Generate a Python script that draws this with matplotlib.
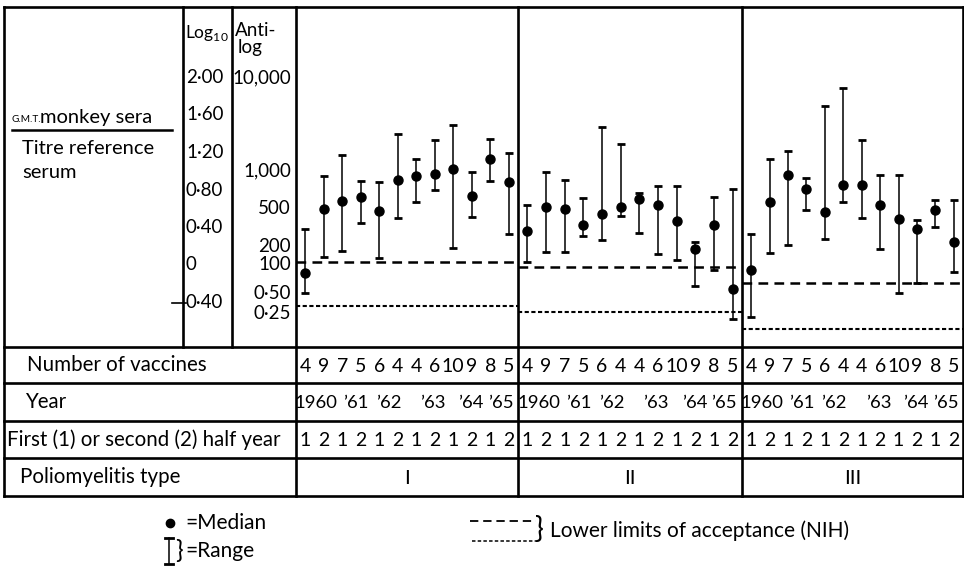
import matplotlib
matplotlib.use("Agg")
import matplotlib.pyplot as plt
from matplotlib.transforms import blended_transform_factory

# values in log10 units
type_I_median = [-0.08, 0.60, 0.68, 0.725, 0.58, 0.905, 0.95, 0.97, 1.02, 0.74, 1.13, 0.885]
type_I_high = [0.38, 0.95, 1.17, 0.90, 0.885, 1.40, 1.13, 1.33, 1.49, 0.99, 1.34, 1.19]
type_I_low = [-0.30, 0.085, 0.15, 0.45, 0.075, 0.50, 0.67, 0.80, 0.18, 0.51, 0.90, 0.33]

type_II_median = [0.36, 0.62, 0.60, 0.43, 0.545, 0.62, 0.70, 0.64, 0.47, 0.17, 0.43, -0.256]
type_II_high = [0.64, 0.99, 0.905, 0.715, 1.47, 1.29, 0.77, 0.84, 0.84, 0.245, 0.725, 0.81]
type_II_low = [0.03, 0.14, 0.14, 0.31, 0.265, 0.52, 0.34, 0.12, 0.05, -0.22, -0.05, -0.576]

type_III_median = [-0.053, 0.67, 0.96, 0.81, 0.565, 0.853, 0.853, 0.64, 0.49, 0.384, 0.587, 0.245]
type_III_high = [0.33, 1.13, 1.216, 0.925, 1.696, 1.89, 1.333, 0.955, 0.955, 0.48, 0.693, 0.693]
type_III_low = [-0.555, 0.128, 0.213, 0.587, 0.277, 0.672, 0.50, 0.17, -0.30, -0.19, 0.405, -0.075]

# lower limits of acceptance (NIH), dashed and dotted
limit_dashed = [0.03, -0.02, -0.19]
limit_dotted = [-0.44, -0.50, -0.68]

vaccines = [4, 9, 7, 5, 6, 4, 4, 6, 10, 9, 8, 5]
years = ["1960", "\u201961", "\u201962", "\u201963", "\u201964", "\u201965"]
half_year = [1, 2, 1, 2, 1, 2, 1, 2, 1, 2, 1, 2]
polio_types = ["I", "II", "III"]

log_ticks = [2.0, 1.6, 1.2, 0.8, 0.4, 0.0, -0.4]
log_labels = ["2\u00b700", "1\u00b760", "1\u00b720", "0\u00b780", "0\u00b740", "0", "0\u00b740"]
antilog_ticks = [2.0, 1.0, 0.6, 0.2, 0.0, -0.3, -0.52]
antilog_labels = ["10,000", "1,000", "500", "200", "100", "0\u00b750", "0\u00b725"]

plt.rcParams["font.family"] = ["Lato", "DejaVu Sans"]
plt.rcParams["mathtext.fontset"] = "custom"
plt.rcParams["mathtext.rm"] = "Lato"
plt.rcParams["lines.scale_dashes"] = False

W, H = 964, 567
fig = plt.figure(figsize=(W / 100, H / 100), dpi=100)

# layout axes in pixel units for the ruled table
base = fig.add_axes([0, 0, 1, 1])
base.set_xlim(0, W)
base.set_ylim(H, 0)
base.axis("off")

lw = 1.9
left, right, top, chart_bottom, table_bottom = 4, 963, 7, 347, 496
rows = [347, 383, 421, 458, 496]
panel_edges = [296, 518, 742, 963]
year_pos = [0.6, 2.75, 4.5, 6.9, 8.95, 10.55]  # where each year label sits under its pair

for y in [top] + rows:
    base.plot([left, right], [y, y], color="black", lw=lw, solid_capstyle="projecting")
for x in [left, right] + panel_edges[:-1]:
    base.plot([x, x], [top, table_bottom], color="black", lw=lw, solid_capstyle="projecting")
for x in [183, 232]:
    base.plot([x, x], [top, chart_bottom], color="black", lw=lw)

# header texts on the left
base.text(185, 33, "Log$_{10}$", fontsize=12.5, va="center", ha="left")
base.text(235, 31, "Anti-", fontsize=13.5, va="center", ha="left")
base.text(238, 47, "log", fontsize=13.5, va="center", ha="left")
base.text(12, 119, "G.M.T.", fontsize=7.2, va="center", ha="left")
base.text(40, 118, "monkey sera", fontsize=14.5, va="center", ha="left")
base.plot([12, 172], [130, 130], color="black", lw=1.8)
base.text(22, 149, "Titre reference", fontsize=14.5, va="center", ha="left")
base.text(22, 172, "serum", fontsize=14.5, va="center", ha="left")

# table row labels
row_labels = ["Number of vaccines", "Year", "First (1) or second (2) half year", "Poliomyelitis type"]
row_x = [27, 25, 7, 20]
for i, lab in enumerate(row_labels):
    base.text(row_x[i], (rows[i] + rows[i + 1]) / 2, lab, fontsize=14.8, va="center", ha="left")

panels = [
    (type_I_median, type_I_low, type_I_high),
    (type_II_median, type_II_low, type_II_high),
    (type_III_median, type_III_low, type_III_high),
]

axes = []
for p, (med, low, high) in enumerate(panels):
    x0, x1 = panel_edges[p], panel_edges[p + 1]
    ax = fig.add_axes([x0 / W, 1 - chart_bottom / H, (x1 - x0) / W, (chart_bottom - top) / H])
    ax.set_facecolor("none")
    ax.set_xlim(-0.5, 11.5)
    ax.set_ylim((265 - chart_bottom) / 93.75, (265 - top) / 93.75)
    for s in ax.spines.values():
        s.set_visible(False)
    ax.set_xticks([])
    ax.set_yticks([])
    xs = list(range(len(med)))
    yerr = [[m - l for m, l in zip(med, low)], [h - m for m, h in zip(med, high)]]
    ax.errorbar(xs, med, yerr=yerr, fmt="o", color="black", ms=6.5, elinewidth=1.1,
                capsize=3.2, capthick=2.0)
    ax.axhline(limit_dashed[p], color="black", lw=1.8, dashes=(7, 4.5))
    ax.axhline(limit_dotted[p], color="black", lw=1.5, dashes=(3, 1.8))
    axes.append(ax)

    tr = blended_transform_factory(ax.transData, base.transData)
    for i, n in enumerate(vaccines):
        ax.text(i, 366, str(n), transform=tr, fontsize=14, ha="center", va="center")
    for k, yr in enumerate(years):
        ax.text(year_pos[k], 403, yr, transform=tr, fontsize=13.3, ha="center", va="center")
    for i, h in enumerate(half_year):
        ax.text(i, 441, str(h), transform=tr, fontsize=14, ha="center", va="center")
    ax.text(5.5, 478, polio_types[p], transform=tr, fontsize=14.5, ha="center", va="center")

# log and antilog scales, using the first panel's vertical scale
ytr = blended_transform_factory(base.transData, axes[0].transData)
for v, lab in zip(log_ticks, log_labels):
    base.text(186, v, lab, transform=ytr, fontsize=13.5, ha="left", va="center")
for v, lab in zip(antilog_ticks, antilog_labels):
    base.text(291, v, lab, transform=ytr, fontsize=13.5, ha="right", va="center")
base.plot([172, 186], [303, 303], color="black", lw=1.2)

# legend
base.plot([170], [523], "o", color="black", ms=6)
base.text(185, 523, "=Median", fontsize=15, ha="left", va="center")
base.plot([169, 169], [538, 564], color="black", lw=1.1)
base.plot([165, 173], [538, 538], color="black", lw=2.0)
base.plot([165, 173], [564, 564], color="black", lw=2.0)
base.text(175, 550, "}", fontsize=18, ha="left", va="center")
base.text(185, 551, "=Range", fontsize=15, ha="left", va="center")

base.plot([470, 536], [521, 521], color="black", lw=1.3, dashes=(6, 3.5))
base.plot([472, 536], [541, 541], color="black", lw=1.1, dashes=(2.5, 1.6))
base.text(535, 530, "}", fontsize=21, ha="left", va="center")
base.text(550, 531, "Lower limits of acceptance (NIH)", fontsize=15, ha="left", va="center")

fig.savefig("out.png", dpi=100)
